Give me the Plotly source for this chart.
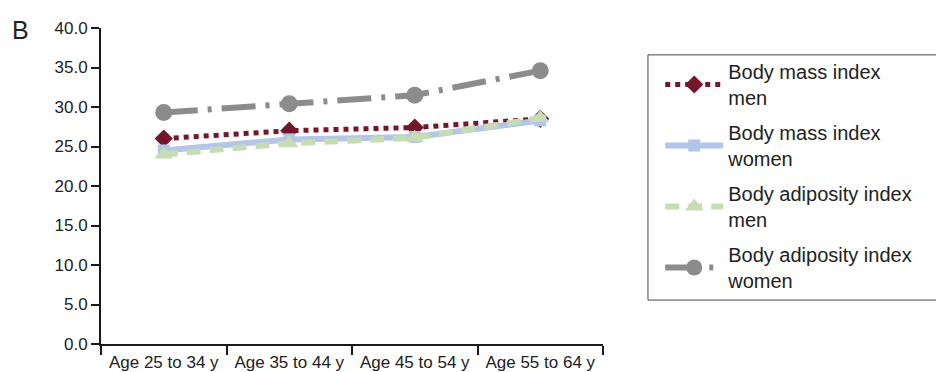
import plotly.graph_objects as go

categories = ["Age 25 to 34 y", "Age 35 to 44 y", "Age 45 to 54 y", "Age 55 to 64 y"]
bmi_men = [26.0, 27.0, 27.4, 28.5]
bmi_women = [24.5, 25.9, 26.2, 28.3]
bai_men = [24.0, 25.4, 26.1, 28.6]
bai_women = [29.3, 30.4, 31.5, 34.6]

series = [
    ("Body mass index<br>men", bmi_men, "#74172A", "5px,5px", "diamond", 5, 14),
    ("Body mass index<br>women", bmi_women, "#B4C6E7", "solid", "square", 6, 12),
    ("Body adiposity index<br>men", bai_men, "#C6DDB4", "14px,9px", "triangle-up", 6, 16),
    ("Body adiposity index<br>women", bai_women, "#8C8C8C", "34px,10px,4px,10px", "circle", 6, 17),
]

fig = go.Figure()
for i, (name, vals, color, dash, sym, lw, ms) in enumerate(series):
    fig.add_trace(go.Scatter(
        x=categories, y=vals, name=name, mode="lines+markers",
        line=dict(color=color, width=lw, dash=dash),
        marker=dict(symbol=sym, size=ms, color=color),
        legendgroup=f"g{i}",
    ))

# page body has an 8px margin, so figure coordinates are offset by 8px
fig.update_layout(
    width=944, height=372,
    margin=dict(l=93, r=349, t=20, b=36, autoexpand=False),
    paper_bgcolor="white", plot_bgcolor="white",
    font=dict(family="Liberation Sans, Arial, sans-serif", size=17, color="#222"),
    showlegend=True,
    legend=dict(
        x=1.114, y=0.924, xanchor="left", yanchor="top",
        borderwidth=0, bgcolor="rgba(0,0,0,0)",
        font=dict(size=20, color="#222"),
        tracegroupgap=6, itemwidth=58,
    ),
    xaxis=dict(
        type="category", tickson="boundaries", ticks="outside", ticklen=9,
        tickcolor="#1a1a1a", tickwidth=2, ticklabelstandoff=2, automargin=False,
        showline=True, linecolor="#1a1a1a", linewidth=2, showgrid=False,
        range=[-0.5, 3.5], tickfont=dict(size=17),
    ),
    yaxis=dict(
        range=[0, 40], dtick=5, tickformat=".1f", ticks="outside", ticklen=8,
        tickcolor="#1a1a1a", tickwidth=2, automargin=False,
        showline=True, linecolor="#1a1a1a", linewidth=2, showgrid=False,
        zeroline=False, tickfont=dict(size=17),
    ),
    shapes=[dict(type="rect", xref="paper", yref="paper",
                 x0=1.0896, x1=1.6713, y0=0.139, y1=0.915,
                 line=dict(color="#444", width=1), fillcolor="rgba(0,0,0,0)")],
    annotations=[dict(text="B", xref="paper", yref="paper",
                      x=-0.181, y=0.995, xanchor="left", yanchor="middle",
                      showarrow=False, font=dict(size=25, color="#222"))],
)
fig.write_html("out.html")
